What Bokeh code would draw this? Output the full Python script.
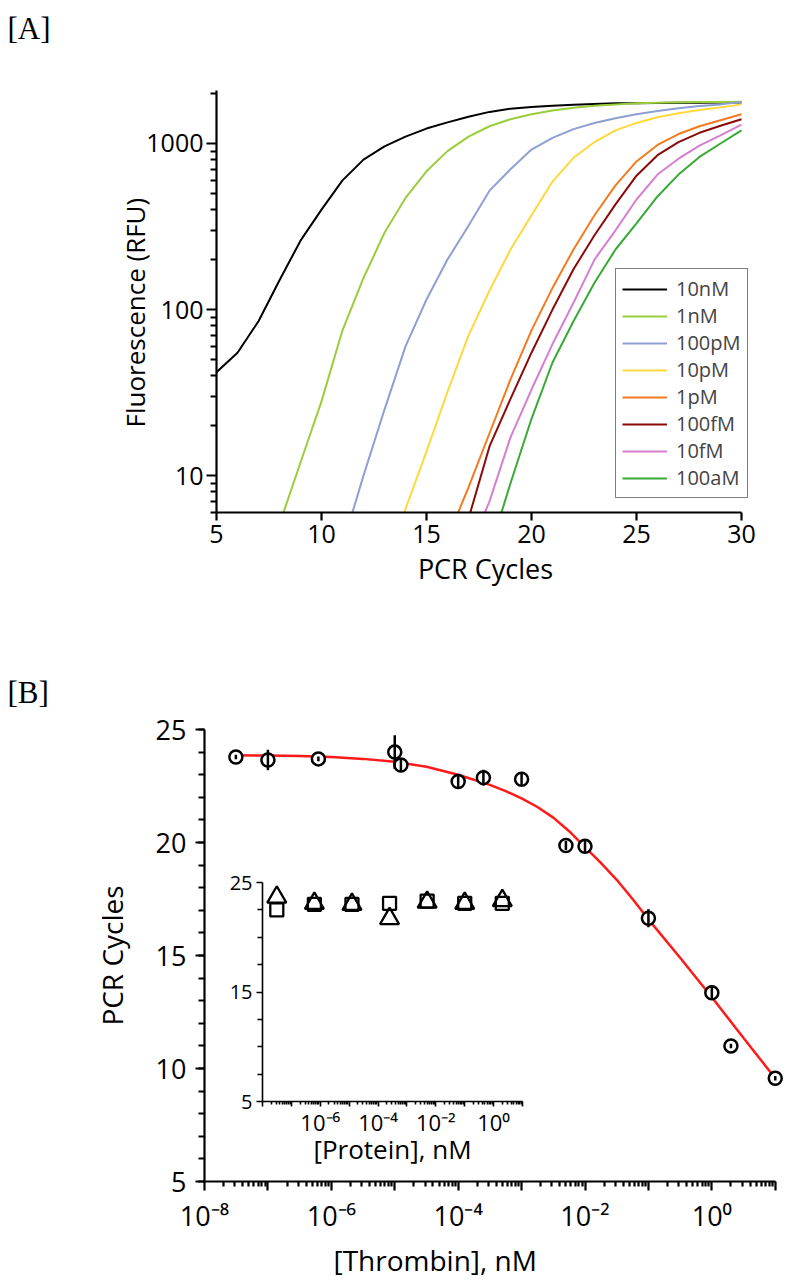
import math
from bokeh.plotting import figure
from bokeh.models import (Range1d, FixedTicker, CustomJSTickFormatter, Legend,
                          LegendItem, Title)
from bokeh.embed import file_html
from bokeh.resources import INLINE

nan = float("nan")

# ---------------- Panel A data: amplification curves ----------------
cycles = list(range(5, 31))
rfu_10nM = [42, 55, 85, 150, 260, 400, 600, 800, 960, 1100, 1230, 1340, 1450,
            1550, 1620, 1660, 1690, 1710, 1730, 1745, 1750, 1755, 1760, 1762, 1765, 1768]
rfu_1nM = [nan, nan, nan, 5.1, 12, 28, 75, 155, 290, 470, 680, 900, 1100, 1270,
           1400, 1500, 1580, 1640, 1690, 1720, 1745, 1760, 1770, 1775, 1780, 1785]
rfu_100pM = [nan, nan, nan, nan, nan, nan, 3.8, 10, 25, 60, 115, 200, 320, 520,
             700, 920, 1080, 1220, 1330, 1420, 1500, 1570, 1630, 1680, 1720, 1780]
rfu_10pM = [nan, nan, nan, nan, nan, nan, nan, nan, 2.5, 6.3, 14, 32, 70, 130,
            230, 370, 590, 820, 1020, 1200, 1330, 1440, 1520, 1590, 1650, 1720]
rfu_1pM = [nan, nan, nan, nan, nan, nan, nan, nan, nan, nan, nan, 4.2, 8.5, 18,
           38, 75, 135, 230, 370, 560, 780, 980, 1140, 1270, 1380, 1500]
rfu_100fM = [nan, nan, nan, nan, nan, nan, nan, nan, nan, nan, nan, nan, 5.5, 15,
             29, 55, 100, 175, 280, 430, 640, 850, 1020, 1160, 1280, 1400]
rfu_10fM = [nan, nan, nan, nan, nan, nan, nan, nan, nan, nan, nan, nan, 3.5, 7,
            17, 33, 62, 110, 200, 300, 460, 650, 810, 970, 1120, 1300]
rfu_100aM = [nan, nan, nan, nan, nan, nan, nan, nan, nan, nan, nan, nan, nan, 3.5,
             9, 22, 48, 85, 145, 230, 330, 480, 650, 830, 1000, 1200]
series_names = ["10nM", "1nM", "100pM", "10pM", "1pM", "100fM", "10fM", "100aM"]
series_values = [rfu_10nM, rfu_1nM, rfu_100pM, rfu_10pM, rfu_1pM, rfu_100fM,
                 rfu_10fM, rfu_100aM]
series_colors = ["#000000", "#9acd3c", "#8e9fd4", "#ffd83c", "#f47a20",
                 "#8b0a0a", "#d67ed0", "#39a935"]
cycle_ticks = [5, 10, 15, 20, 25, 30]
rfu_ticks = [10, 100, 1000]
rfu_tick_labels = ["10", "100", "1000"]
rfu_minor = [6, 7, 8, 9, 20, 30, 40, 50, 60, 70, 80, 90,
             200, 300, 400, 500, 600, 700, 800, 900, 2000]

# ---------------- Panel B data: thrombin dose response ----------------
thrombin_nM = [3.125e-8, 1e-7, 6.25e-7, 1e-5, 1.25e-5, 1e-4, 2.5e-4, 1e-3,
               5e-3, 1e-2, 0.1, 1, 2, 10]
thrombin_ct = [23.78, 23.65, 23.7, 24.0, 23.43, 22.7, 22.87, 22.8,
               19.87, 19.83, 16.65, 13.35, 11.0, 9.57]
thrombin_err = [0.1, 0.45, 0.1, 0.75, 0.3, 0.3, 0.35, 0.3,
                0.2, 0.3, 0.4, 0.3, 0.1, 0.1]
fit_log10_nM = [-7.5, -7, -6.5, -6, -5.5, -5, -4.5, -4, -3.5, -3.25, -3, -2.75,
                -2.5, -2.25, -2, -1.75, -1.5, -1.25, -1, -0.5, 0, 0.5, 1]
fit_ct = [23.86, 23.85, 23.83, 23.78, 23.7, 23.57, 23.35, 23.0, 22.55, 22.27,
          21.95, 21.57, 21.1, 20.5, 19.8, 19.1, 18.35, 17.5, 16.6, 14.9, 13.15,
          11.35, 9.57]
decade_ticks = [1e-8, 1e-7, 1e-6, 1e-5, 1e-4, 1e-3, 1e-2, 1e-1, 1, 10]
thrombin_tick_labels = ["10⁻⁸", "", "10⁻⁶", "", "10⁻⁴", "", "10⁻²", "", "10⁰", ""]
ct_ticks = [5, 10, 15, 20, 25]
ct_minor = list(range(5, 26))

# inset: other proteins
protein_nM = [3.125e-8, 6.25e-7, 1.25e-5, 2.5e-4, 5e-3, 0.1, 2]
protein_sq_ct = [22.5, 23.0, 23.0, 23.1, 23.3, 23.1, 23.1]
protein_tri_ct = [23.66, 23.1, 23.0, 21.7, 23.2, 23.1, 23.35]
protein_tick_labels = ["", "", "10⁻⁶", "", "10⁻⁴", "", "10⁻²", "", "10⁰", ""]
inset_ct_ticks = [5, 15, 25]
inset_ct_minor = [7.5, 10, 12.5, 17.5, 20, 22.5]

FONT = "Open Sans"
SERIF = "Liberation Serif"
decade_minor = [m * 10.0 ** k for k in range(-8, 1) for m in range(2, 10)]


def style_axis(ax, tick_size, lw, major_out, minor_out, standoff):
    ax.axis_line_color = "black"
    ax.axis_line_width = lw
    ax.major_tick_line_color = "black"
    ax.major_tick_line_width = lw
    ax.minor_tick_line_color = "black"
    ax.minor_tick_line_width = lw
    ax.major_tick_in = 0
    ax.major_tick_out = major_out
    ax.minor_tick_in = 0
    ax.minor_tick_out = minor_out
    ax.major_label_text_font = FONT
    ax.major_label_text_font_size = tick_size
    ax.major_label_text_color = "black"
    ax.major_label_standoff = standoff
    ax.axis_label_text_font = FONT
    ax.axis_label_text_font_style = "normal"
    ax.axis_label_text_color = "black"


def list_formatter(labels):
    return CustomJSTickFormatter(args=dict(labels=labels),
                                 code="return labels[index];")


def style_title(t, font, size):
    t.text_font = font
    t.text_font_size = size
    t.text_font_style = "normal"
    t.text_color = "black"


# ---------------- Panel A ----------------
pA = figure(width=792, height=640, x_range=Range1d(5, 30.62),
            y_range=Range1d(6, 2085), y_axis_type="log",
            output_backend="svg", toolbar_location=None,
            min_border_left=216, min_border_right=38,
            min_border_top=90, min_border_bottom=128)
pA.outline_line_color = None
pA.grid.visible = False

items = []
for name, vals, color in zip(series_names, series_values, series_colors):
    r = pA.line(cycles, vals, line_color=color, line_width=2)
    items.append(LegendItem(label=name, renderers=[r]))

xa = pA.xaxis[0]
style_axis(xa, "25px", 2.2, 8, 0, 4)
xa.ticker = FixedTicker(ticks=cycle_ticks, minor_ticks=[])
xa.bounds = (5, 30)
xa.axis_label = "PCR Cycles"
xa.axis_label_text_font_size = "27px"
xa.axis_label_standoff = 4

ya = pA.yaxis[0]
style_axis(ya, "25px", 2.2, 10, 6, 3)
ya.ticker = FixedTicker(ticks=rfu_ticks, minor_ticks=rfu_minor)
ya.formatter = list_formatter(rfu_tick_labels)

leg = Legend(items=items, location=(399, 14), orientation="vertical",
             border_line_color="black", border_line_width=1.5,
             background_fill_color="white", background_fill_alpha=1,
             label_text_font=FONT, label_text_font_size="20px",
             glyph_width=45, glyph_height=24, label_height=24,
             label_standoff=9, padding=6, spacing=0, margin=0)
pA.add_layout(leg)

ylabA = Title(text="Fluorescence (RFU)", align="left", offset=85,
              standoff=-18, vertical_align="bottom")
style_title(ylabA, FONT, "26px")
pA.add_layout(ylabA, "left")

# small transparent header carrying the panel tag "[A]"
tagA = figure(width=80, height=80, output_backend="svg", toolbar_location=None,
              x_axis_location=None, y_axis_location=None,
              min_border_left=0, min_border_right=0, min_border_top=0,
              min_border_bottom=0, background_fill_alpha=0,
              border_fill_alpha=0)
tagA.outline_line_color = None
tagA.grid.visible = False
tagA.title.text = "[A]"
tagA.title.align = "left"
tagA.title.offset = 7
tagA.title.standoff = 16
tagA.title.vertical_align = "bottom"
style_title(tagA.title, SERIF, "31px")
tagA.styles = {"position": "absolute", "left": "0px", "top": "0px"}

# ---------------- Panel B ----------------
pB = figure(width=792, height=640, x_axis_type="log",
            x_range=Range1d(1e-8, 10 ** 1.13), y_range=Range1d(5, 25),
            output_backend="svg", toolbar_location=None,
            min_border_left=204, min_border_right=9,
            min_border_top=89, min_border_bottom=93)
pB.outline_line_color = None
pB.grid.visible = False

fit_nM = [10.0 ** v for v in fit_log10_nM]
pB.line(fit_nM, fit_ct, line_color="#ff1a1a", line_width=2.5)
pB.scatter(thrombin_nM, thrombin_ct, marker="circle", size=13,
           line_color="black", line_width=2.5, fill_color="white")
lo = [c - e for c, e in zip(thrombin_ct, thrombin_err)]
hi = [c + e for c, e in zip(thrombin_ct, thrombin_err)]
pB.segment(x0=thrombin_nM, y0=lo, x1=thrombin_nM, y1=hi,
           line_color="black", line_width=2.5)

xb = pB.xaxis[0]
style_axis(xb, "27px", 2.2, 9, 5, 6)
xb.ticker = FixedTicker(ticks=decade_ticks, minor_ticks=decade_minor)
xb.formatter = list_formatter(thrombin_tick_labels)
xb.bounds = (1e-8, 10)

yb = pB.yaxis[0]
style_axis(yb, "27px", 2.2, 9, 6, 9)
yb.ticker = FixedTicker(ticks=ct_ticks, minor_ticks=ct_minor)
yb.axis_label = "PCR Cycles"
yb.axis_label_text_font_size = "28px"
yb.axis_label_standoff = 22

xlabB = Title(text="[Thrombin], nM", align="left", offset=129,
              standoff=4, vertical_align="bottom")
style_title(xlabB, FONT, "28px")
pB.add_layout(xlabB, "below")

pB.title.text = "[B]"
pB.title.align = "left"
pB.title.offset = -197
pB.title.standoff = 40
pB.title.vertical_align = "bottom"
style_title(pB.title, SERIF, "31px")

# ---------------- Inset ----------------
pI = figure(width=322, height=311, x_axis_type="log",
            x_range=Range1d(1e-8, 10), y_range=Range1d(5, 25),
            output_backend="svg", toolbar_location=None,
            min_border_left=54, min_border_right=8,
            min_border_top=12, min_border_bottom=80,
            background_fill_alpha=0, border_fill_alpha=0)
pI.outline_line_color = None
pI.grid.visible = False
pI.styles = {"position": "absolute", "left": "208px", "top": "870px"}

pI.scatter(protein_nM, protein_sq_ct, marker="square", size=13,
           line_color="black", line_width=2.3, fill_color=None)
pI.scatter(protein_nM, protein_tri_ct, marker="triangle", size=19,
           line_color="black", line_width=2.3, fill_color=None)

xi = pI.xaxis[0]
style_axis(xi, "22px", 1.6, 5, 3, 0)
xi.ticker = FixedTicker(ticks=decade_ticks, minor_ticks=decade_minor)
xi.formatter = list_formatter(protein_tick_labels)
xi.axis_label = "[Protein], nM"
xi.axis_label_text_font_size = "26px"
xi.axis_label_standoff = -9

yi = pI.yaxis[0]
style_axis(yi, "20px", 1.6, 6, 5, 4)
yi.ticker = FixedTicker(ticks=inset_ct_ticks, minor_ticks=inset_ct_minor)

open("out.html", "w").write(file_html([pA, pB, pI, tagA], INLINE))
